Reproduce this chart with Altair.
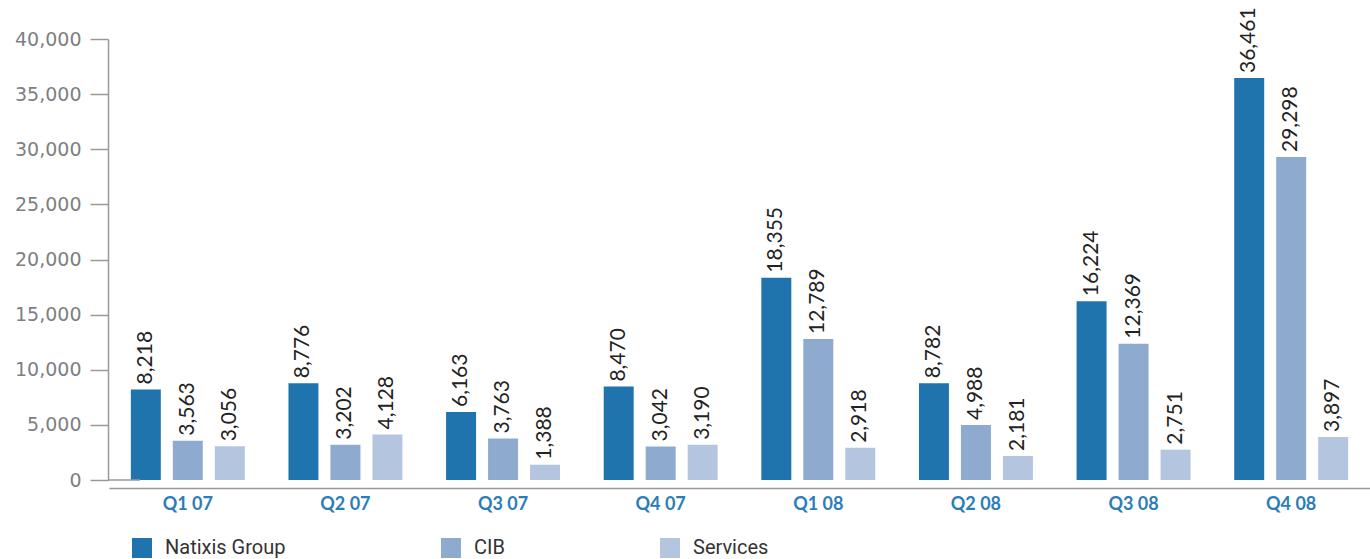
import altair as alt
import pandas as pd

quarters = ["Q1 07", "Q2 07", "Q3 07", "Q4 07", "Q1 08", "Q2 08", "Q3 08", "Q4 08"]
series = ["Natixis Group", "CIB", "Services"]
natixis = [8218, 8776, 6163, 8470, 18355, 8782, 16224, 36461]
cib = [3563, 3202, 3763, 3042, 12789, 4988, 12369, 29298]
services = [3056, 4128, 1388, 3190, 2918, 2181, 2751, 3897]
colors = ["#1f74ad", "#8eaacf", "#b4c6df"]
y_ticks = [0, 5000, 10000, 15000, 20000, 25000, 30000, 35000, 40000]

rows = []
for i, q in enumerate(quarters):
    for s, vals in zip(series, [natixis, cib, services]):
        rows.append({"quarter": q, "series": s, "value": vals[i]})
df = pd.DataFrame(rows)

x = alt.X(
    "quarter:N", sort=quarters,
    scale=alt.Scale(paddingInner=0, paddingOuter=0),
    axis=alt.Axis(title=None, labelAngle=0, ticks=False, offset=8,
                  domainColor="#999999", domainWidth=1.5,
                  labelFont="Lato", labelFontWeight="bold", labelFontSize=18,
                  labelColor="#2a7db8", labelPadding=7),
)
xoff = alt.XOffset("series:N", sort=series,
                   scale=alt.Scale(paddingInner=0.286, paddingOuter=0.52))
y = alt.Y(
    "value:Q",
    scale=alt.Scale(domain=[0, 40000], nice=False),
    axis=alt.Axis(title=None, values=y_ticks, format=",d", grid=False,
                  offset=1, domainColor="#999999", domainWidth=1.5,
                  tickColor="#999999", tickWidth=1.5, tickSize=18,
                  labelFont="DejaVu Sans", labelFontSize=19, labelColor="#7d7f83",
                  labelPadding=9),
)
color = alt.Color(
    "series:N", sort=series,
    scale=alt.Scale(domain=series, range=colors),
    legend=alt.Legend(title=None, orient="none", direction="horizontal",
                      legendX=23, legendY=499, columns=3, columnPadding=155,
                      symbolType="square", symbolSize=400, symbolStrokeWidth=0,
                      symbolOpacity=1,
                      labelFont="Roboto", labelFontSize=20,
                      labelColor="#333333", labelOffset=13, padding=0),
)

bars = alt.Chart(df).mark_bar().encode(x=x, xOffset=xoff, y=y, color=color)
labels = alt.Chart(df).mark_text(
    angle=270, align="left", baseline="middle", dx=5,
    font="Lato", fontSize=21, color="#222222",
).encode(x=x, xOffset=xoff, y=y, text=alt.Text("value:Q", format=",d"))
zero_tick = alt.Chart(pd.DataFrame({"v": [0]})).mark_rule(
    color="#999999", strokeWidth=1.5
).encode(y=alt.Y("v:Q"), x=alt.value(-1), x2=alt.value(31))

chart = (
    alt.layer(bars, labels, zero_tick)
    .properties(width=1261, height=441,
                autosize=alt.AutoSizeParams(type="none"),
                padding={"left": 109, "top": 39, "right": 0, "bottom": 79})
    .configure(background="white")
    .configure_view(stroke="transparent", strokeWidth=0)
)
chart.save("out.html", embed_options={"renderer": "svg", "actions": False})
